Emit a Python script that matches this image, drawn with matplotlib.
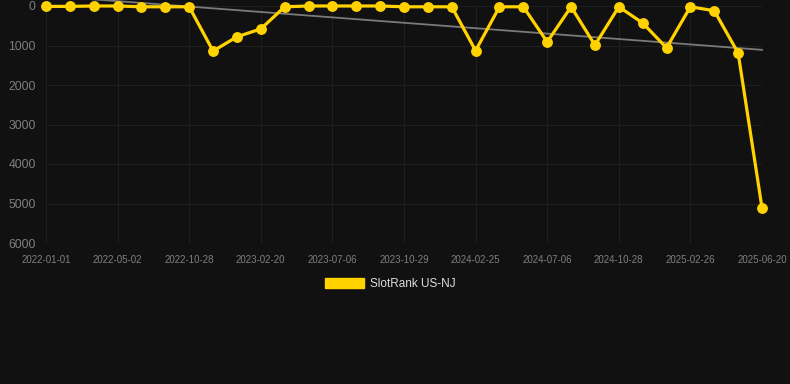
import matplotlib

matplotlib.use("Agg")
import matplotlib.pyplot as plt
from matplotlib.patches import Patch

# Dates affichées (une étiquette tous les 3 points)
tick_labels = [
    "2022-01-01", "2022-05-02", "2022-10-28", "2023-02-20", "2023-07-06",
    "2023-10-29", "2024-02-25", "2024-07-06", "2024-10-28", "2025-02-26",
    "2025-06-20",
]
# Rang SlotRank, un point par relevé (31 relevés)
rank = [
    10, 10, 0, 0, 20, 20, 20, 1140, 780, 580,
    20, 0, 0, 0, 0, 20, 20, 20, 1130, 20,
    20, 910, 20, 990, 20, 430, 1060, 20, 120, 1190,
    5110,
]
# Ligne de tendance : valeurs lues aux deux extrémités
trend_ends = [-260, 1110]
y_ticks = [0, 1000, 2000, 3000, 4000, 5000, 6000]

bg = "#111111"
gold = "#FFD200"
plt.rcParams["font.family"] = ["Liberation Sans", "DejaVu Sans"]

fig = plt.figure(figsize=(7.9, 3.84), dpi=100)
fig.patch.set_facecolor(bg)
ax = fig.add_axes((46 / 790, 1 - 243 / 384, 716 / 790, 237 / 384))
ax.set_facecolor(bg)

x = list(range(len(rank)))
ax.plot([x[0], x[-1]], trend_ends, color="#7a7a7a", lw=1.3, clip_on=False, zorder=2)
ax.plot(x, rank, color=gold, lw=2.3, marker="o", ms=6.8, mfc=gold, mec=gold,
        clip_on=False, zorder=3)

ax.set_xlim(0, len(rank) - 1)
ax.set_ylim(6000, 0)
ax.set_xticks(x[::3])
ax.set_xticklabels(tick_labels)
ax.set_yticks(y_ticks)
ax.tick_params(axis="x", length=0, pad=8.5, labelsize=7, labelcolor="#7f7f7f")
ax.tick_params(axis="y", length=0, pad=7.5, labelsize=8.7, labelcolor="#7f7f7f")
ax.grid(True, color="#1f1f1f", lw=0.8)
ax.set_axisbelow(True)
for s in ax.spines.values():
    s.set_visible(False)

fig.legend(
    handles=[Patch(facecolor=gold, edgecolor=gold)], labels=["SlotRank US-NJ"],
    loc="center", bbox_to_anchor=(390 / 790, 1 - 284 / 384), frameon=False,
    fontsize=8.5, labelcolor="#dddddd", handlelength=3.3, handleheight=1.0,
    handletextpad=0.5,
)

fig.savefig("out.png", dpi=100, facecolor=bg)
